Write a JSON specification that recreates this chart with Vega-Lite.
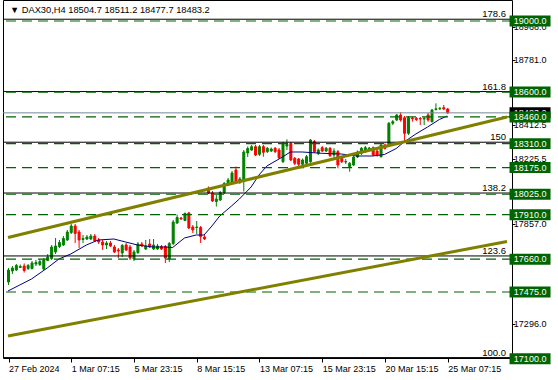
{
  "$schema": "https://vega.github.io/schema/vega-lite/v6.json",
  "width": 509,
  "height": 358,
  "autosize": {"type": "none"},
  "padding": {"left": 3, "top": 0, "right": 46, "bottom": 22},
  "background": "white",
  "config": {
    "font": "Liberation Sans",
    "view": {"stroke": "#000000", "strokeWidth": 1},
    "axis": {"grid": false, "domain": false, "tickColor": "#000000", "labelColor": "#000000", "labelFontSize": 9, "labelFlush": false, "labelOverlap": false, "labelBound": false, "titleFontSize": 0}
  },
  "datasets": {
    "candles": [
      {"i":0,"o":17531.4,"h":17610.2,"l":17514.5,"c":17598.9},
      {"i":1,"o":17593.3,"h":17621.4,"l":17576.4,"c":17610.2},
      {"i":2,"o":17598.9,"h":17632.7,"l":17593.3,"c":17624.2},
      {"i":3,"o":17613.0,"h":17629.8,"l":17610.2,"c":17618.6},
      {"i":4,"o":17621.4,"h":17635.5,"l":17584.8,"c":17596.1},
      {"i":5,"o":17607.4,"h":17632.7,"l":17598.9,"c":17624.2},
      {"i":6,"o":17607.4,"h":17649.6,"l":17601.7,"c":17638.3},
      {"i":7,"o":17632.7,"h":17655.2,"l":17621.4,"c":17641.1},
      {"i":8,"o":17629.8,"h":17660.8,"l":17621.4,"c":17646.7},
      {"i":9,"o":17604.5,"h":17666.4,"l":17598.9,"c":17655.2},
      {"i":10,"o":17652.4,"h":17688.9,"l":17649.6,"c":17672.1},
      {"i":11,"o":17663.6,"h":17739.6,"l":17655.2,"c":17728.3},
      {"i":12,"o":17700.2,"h":17779.0,"l":17688.9,"c":17734.0},
      {"i":13,"o":17731.1,"h":17767.7,"l":17722.7,"c":17753.7},
      {"i":14,"o":17739.6,"h":17790.2,"l":17734.0,"c":17776.2},
      {"i":15,"o":17767.7,"h":17824.0,"l":17762.1,"c":17812.7},
      {"i":16,"o":17809.9,"h":17857.8,"l":17801.5,"c":17846.5},
      {"i":17,"o":17846.5,"h":17857.8,"l":17750.8,"c":17804.3},
      {"i":18,"o":17812.7,"h":17824.0,"l":17722.7,"c":17767.7},
      {"i":19,"o":17770.5,"h":17795.9,"l":17750.8,"c":17776.2},
      {"i":20,"o":17773.3,"h":17795.9,"l":17767.7,"c":17784.6},
      {"i":21,"o":17773.3,"h":17801.5,"l":17767.7,"c":17790.2},
      {"i":22,"o":17790.2,"h":17801.5,"l":17756.5,"c":17762.1},
      {"i":23,"o":17767.7,"h":17779.0,"l":17745.2,"c":17756.5},
      {"i":24,"o":17756.5,"h":17767.7,"l":17711.4,"c":17739.6},
      {"i":25,"o":17739.6,"h":17762.1,"l":17717.1,"c":17750.8},
      {"i":26,"o":17750.8,"h":17762.1,"l":17728.3,"c":17734.0},
      {"i":27,"o":17728.3,"h":17739.6,"l":17694.6,"c":17700.2},
      {"i":28,"o":17711.4,"h":17722.7,"l":17666.4,"c":17705.8},
      {"i":29,"o":17694.6,"h":17745.2,"l":17672.1,"c":17736.8},
      {"i":30,"o":17739.6,"h":17750.8,"l":17705.8,"c":17711.4},
      {"i":31,"o":17728.3,"h":17739.6,"l":17655.2,"c":17666.4},
      {"i":32,"o":17660.8,"h":17711.4,"l":17649.6,"c":17700.2},
      {"i":33,"o":17697.4,"h":17756.5,"l":17688.9,"c":17745.2},
      {"i":34,"o":17745.2,"h":17756.5,"l":17728.3,"c":17734.0},
      {"i":35,"o":17717.1,"h":17767.7,"l":17711.4,"c":17734.0},
      {"i":36,"o":17745.2,"h":17773.3,"l":17722.7,"c":17728.3},
      {"i":37,"o":17717.1,"h":17773.3,"l":17711.4,"c":17739.6},
      {"i":38,"o":17717.1,"h":17745.2,"l":17711.4,"c":17734.0},
      {"i":39,"o":17731.1,"h":17739.6,"l":17711.4,"c":17717.1},
      {"i":40,"o":17731.1,"h":17739.6,"l":17638.3,"c":17666.4},
      {"i":41,"o":17660.8,"h":17756.5,"l":17643.9,"c":17748.0},
      {"i":42,"o":17748.0,"h":17880.3,"l":17739.6,"c":17869.0},
      {"i":43,"o":17863.4,"h":17911.2,"l":17857.8,"c":17894.3},
      {"i":44,"o":17891.5,"h":17897.1,"l":17880.3,"c":17885.9},
      {"i":45,"o":17877.5,"h":17922.5,"l":17874.6,"c":17916.8},
      {"i":46,"o":17919.6,"h":17925.3,"l":17829.6,"c":17835.2},
      {"i":47,"o":17840.9,"h":17852.1,"l":17807.1,"c":17824.0},
      {"i":48,"o":17838.1,"h":17874.6,"l":17801.5,"c":17840.9},
      {"i":49,"o":17838.1,"h":17846.5,"l":17750.8,"c":17787.4},
      {"i":50,"o":17784.6,"h":17795.9,"l":17767.7,"c":17773.3},
      {"i":51,"o":18060.3,"h":18068.8,"l":18026.6,"c":18032.2},
      {"i":52,"o":18032.2,"h":18043.4,"l":17981.5,"c":17987.2},
      {"i":53,"o":17984.4,"h":18020.9,"l":17956.2,"c":17998.4},
      {"i":54,"o":17992.8,"h":18043.4,"l":17987.2,"c":18035.0},
      {"i":55,"o":18035.0,"h":18094.1,"l":18026.6,"c":18085.6},
      {"i":56,"o":18077.2,"h":18116.6,"l":18071.6,"c":18105.3},
      {"i":57,"o":18088.5,"h":18156.0,"l":18082.8,"c":18144.7},
      {"i":58,"o":18161.6,"h":18181.3,"l":18088.5,"c":18094.1},
      {"i":59,"o":18094.1,"h":18122.2,"l":18082.8,"c":18111.0},
      {"i":60,"o":18105.3,"h":18274.1,"l":18040.6,"c":18262.9},
      {"i":61,"o":18257.3,"h":18293.8,"l":18234.8,"c":18282.6},
      {"i":62,"o":18274.1,"h":18302.3,"l":18268.5,"c":18292.7},
      {"i":63,"o":18292.7,"h":18302.3,"l":18240.4,"c":18246.0},
      {"i":64,"o":18250.0,"h":18302.3,"l":18240.4,"c":18292.7},
      {"i":65,"o":18292.7,"h":18302.3,"l":18236.5,"c":18261.2},
      {"i":66,"o":18264.6,"h":18291.0,"l":18257.3,"c":18283.7},
      {"i":67,"o":18268.5,"h":18288.2,"l":18262.9,"c":18279.8},
      {"i":68,"o":18283.7,"h":18291.0,"l":18257.3,"c":18264.6},
      {"i":69,"o":18274.1,"h":18285.4,"l":18223.5,"c":18230.8},
      {"i":70,"o":18208.3,"h":18319.2,"l":18201.0,"c":18311.9},
      {"i":71,"o":18296.7,"h":18334.4,"l":18274.1,"c":18305.1},
      {"i":72,"o":18311.9,"h":18319.2,"l":18212.3,"c":18217.9},
      {"i":73,"o":18227.4,"h":18234.8,"l":18189.7,"c":18199.3},
      {"i":74,"o":18223.5,"h":18229.1,"l":18184.1,"c":18193.7},
      {"i":75,"o":18193.7,"h":18226.3,"l":18189.7,"c":18217.9},
      {"i":76,"o":18199.3,"h":18246.0,"l":18192.6,"c":18236.5},
      {"i":77,"o":18208.3,"h":18336.0,"l":18201.0,"c":18330.4},
      {"i":78,"o":18320.9,"h":18330.4,"l":18257.3,"c":18264.6},
      {"i":79,"o":18255.6,"h":18282.6,"l":18246.0,"c":18274.1},
      {"i":80,"o":18287.1,"h":18296.7,"l":18262.9,"c":18268.5},
      {"i":81,"o":18268.5,"h":18291.0,"l":18262.9,"c":18283.7},
      {"i":82,"o":18283.7,"h":18291.0,"l":18234.8,"c":18242.1},
      {"i":83,"o":18246.0,"h":18283.7,"l":18230.8,"c":18268.5},
      {"i":84,"o":18264.6,"h":18274.1,"l":18171.2,"c":18189.7},
      {"i":85,"o":18227.4,"h":18234.8,"l":18201.0,"c":18208.3},
      {"i":86,"o":18206.6,"h":18223.5,"l":18195.4,"c":18209.4},
      {"i":87,"o":18180.2,"h":18206.6,"l":18152.0,"c":18199.3},
      {"i":88,"o":18189.7,"h":18240.4,"l":18184.1,"c":18234.8},
      {"i":89,"o":18234.8,"h":18271.3,"l":18229.1,"c":18262.9},
      {"i":90,"o":18255.6,"h":18291.0,"l":18246.0,"c":18283.7},
      {"i":91,"o":18264.6,"h":18296.7,"l":18257.3,"c":18287.1},
      {"i":92,"o":18279.8,"h":18291.0,"l":18274.1,"c":18285.4},
      {"i":93,"o":18287.1,"h":18293.8,"l":18240.4,"c":18246.0},
      {"i":94,"o":18268.5,"h":18277.0,"l":18236.5,"c":18246.0},
      {"i":95,"o":18236.5,"h":18307.9,"l":18231.9,"c":18302.3},
      {"i":96,"o":18302.3,"h":18310.7,"l":18277.0,"c":18283.7},
      {"i":97,"o":18302.3,"h":18431.7,"l":18296.7,"c":18424.4},
      {"i":98,"o":18424.4,"h":18443.0,"l":18414.8,"c":18433.4},
      {"i":99,"o":18443.0,"h":18476.7,"l":18437.3,"c":18471.1},
      {"i":100,"o":18471.1,"h":18486.3,"l":18433.4,"c":18443.0},
      {"i":101,"o":18455.9,"h":18465.5,"l":18320.9,"c":18368.1},
      {"i":102,"o":18368.1,"h":18465.5,"l":18358.6,"c":18455.9},
      {"i":103,"o":18454.2,"h":18461.5,"l":18433.4,"c":18450.3},
      {"i":104,"o":18452.5,"h":18459.8,"l":18437.3,"c":18445.8},
      {"i":105,"o":18451.4,"h":18459.8,"l":18414.8,"c":18448.6},
      {"i":106,"o":18448.6,"h":18459.8,"l":18414.8,"c":18451.4},
      {"i":107,"o":18471.1,"h":18482.3,"l":18433.4,"c":18443.0},
      {"i":108,"o":18433.4,"h":18504.9,"l":18428.9,"c":18499.2},
      {"i":109,"o":18502.0,"h":18536.9,"l":18496.4,"c":18506.0},
      {"i":110,"o":18506.0,"h":18516.1,"l":18499.2,"c":18508.8},
      {"i":111,"o":18512.2,"h":18527.4,"l":18499.2,"c":18504.9},
      {"i":112,"o":18504.7,"h":18511.2,"l":18477.7,"c":18483.2}
    ],
    "ma": [
      {"i":0,"v":17480.7},{"i":3,"v":17514.5},{"i":6,"v":17548.3},{"i":10,"v":17610.2},
      {"i":13,"v":17660.8},{"i":16,"v":17688.9},{"i":20,"v":17739.6},{"i":23,"v":17767.7},
      {"i":27,"v":17773.3},{"i":30,"v":17756.5},{"i":33,"v":17739.6},{"i":37,"v":17728.3},
      {"i":40,"v":17728.3},{"i":42,"v":17725.5},{"i":45,"v":17779.0},{"i":48,"v":17795.9},
      {"i":50,"v":17795.9},{"i":52,"v":17846.5},{"i":54,"v":17902.8},{"i":57,"v":17959.0},
      {"i":59,"v":17998.4},{"i":62,"v":18066.0},{"i":64,"v":18133.5},{"i":66,"v":18184.1},
      {"i":70,"v":18234.8},{"i":72,"v":18262.9},{"i":75,"v":18262.9},{"i":80,"v":18255.6},
      {"i":85,"v":18251.6},{"i":89,"v":18240.4},{"i":93,"v":18240.4},{"i":96,"v":18248.8},
      {"i":99,"v":18282.6},{"i":101,"v":18319.2},{"i":104,"v":18364.2},{"i":107,"v":18403.6},
      {"i":110,"v":18445.8},{"i":112,"v":18465.5}
    ],
    "trend": [
      {"line":"a","i":0,"p":17781.8},{"line":"a","i":127.25,"p":18459.8},
      {"line":"b","i":0,"p":17227.5},{"line":"b","i":127.25,"p":17759.3}
    ],
    "fib": [
      {"lbl":"178.6","p":19010},{"lbl":"161.8","p":18603},{"lbl":"150","p":18318},
      {"lbl":"138.2","p":18032},{"lbl":"123.6","p":17678},{"lbl":"100.0","p":17106}
    ],
    "levels": [
      {"p":19000},{"p":18600},{"p":18460},{"p":18310},{"p":18175},
      {"p":18025},{"p":17910},{"p":17660},{"p":17475}
    ],
    "boxes": [
      {"p":19000},{"p":18600},{"p":18460},{"p":18310},{"p":18175},
      {"p":18025},{"p":17910},{"p":17660},{"p":17475},{"p":17100}
    ],
    "yticks": [
      {"p":18968},{"p":18781},{"p":18412.5},{"p":18225.5},{"p":17857},{"p":17296}
    ],
    "last": [{"p":18483.2}],
    "title": [{"t":"▼  DAX30,H4  18504.7 18511.2 18477.7 18483.2"}]
  },
  "layer": [
    {
      "data": {"name": "candles"},
      "mark": {"type": "rule", "strokeWidth": 1, "xOffset": 0.5},
      "encoding": {
        "x": {"field": "i", "type": "quantitative", "title": null,
          "scale": {"domain": [0, 127.25], "nice": false, "zero": false},
          "axis": {"values": [0,16,32,48,64,80,96,112], "labelExpr": "['27 Feb 2024','1 Mar 07:15','5 Mar 23:15','8 Mar 15:15','13 Mar 07:15','15 Mar 23:15','20 Mar 15:15','25 Mar 07:15'][round(datum.value/16)]",
            "title": null, "orient": "bottom", "tickSize": 4, "tickOffset": 0.5, "labelOverlap": false,
            "labelAlign": "left", "labelBaseline": "top", "labelPadding": 2}},
        "y": {"field": "l", "type": "quantitative", "title": null,
          "scale": {"domain": [17103.7, 19118.2], "nice": false, "zero": false},
          "axis": {"orient": "right", "values": [18968, 18781, 18412.5, 18225.5, 17857, 17296], "labels": false,
            "title": null, "tickSize": 3}},
        "y2": {"field": "h"},
        "color": {"condition": {"test": "datum.c >= datum.o", "value": "#008000"}, "value": "#ff0000"}
      }
    },
    {
      "data": {"name": "candles"},
      "mark": {"type": "bar", "width": 2, "strokeWidth": 1, "xOffset": 0.5},
      "encoding": {
        "x": {"field": "i", "type": "quantitative", "title": null},
        "y": {"field": "o", "type": "quantitative", "title": null},
        "y2": {"field": "c"},
        "color": {"condition": {"test": "datum.c >= datum.o", "value": "#008000"}, "value": "#ff0000"},
        "stroke": {"condition": {"test": "datum.c >= datum.o", "value": "#008000"}, "value": "#ff0000"}
      }
    },
    {
      "data": {"name": "ma"},
      "mark": {"type": "line", "color": "#000080", "strokeWidth": 1},
      "encoding": {
        "x": {"field": "i", "type": "quantitative", "title": null},
        "y": {"field": "v", "type": "quantitative", "title": null}
      }
    },
    {
      "data": {"name": "fib"},
      "mark": {"type": "rule", "color": "#000000", "strokeWidth": 1},
      "encoding": {
        "y": {"field": "p", "type": "quantitative", "title": null}
      }
    },
    {
      "data": {"name": "levels"},
      "mark": {"type": "rule", "color": "#006400", "strokeWidth": 1.2, "strokeDash": [10, 6]},
      "encoding": {
        "y": {"field": "p", "type": "quantitative", "title": null}
      }
    },
    {
      "data": {"name": "last"},
      "mark": {"type": "rule", "color": "#778899", "strokeWidth": 1},
      "encoding": {
        "y": {"field": "p", "type": "quantitative", "title": null}
      }
    },
    {
      "data": {"name": "trend"},
      "mark": {"type": "line", "color": "#808000", "strokeWidth": 3},
      "encoding": {
        "x": {"field": "i", "type": "quantitative", "title": null},
        "y": {"field": "p", "type": "quantitative", "title": null},
        "detail": {"field": "line"}
      }
    },
    {
      "data": {"name": "fib"},
      "mark": {"type": "text", "align": "right", "baseline": "alphabetic", "dy": -2, "fontSize": 9.5, "color": "#000000"},
      "encoding": {
        "x": {"datum": 127, "type": "quantitative", "title": null},
        "y": {"field": "p", "type": "quantitative", "title": null},
        "text": {"field": "lbl"}
      }
    },
    {
      "data": {"name": "yticks"},
      "mark": {"type": "text", "align": "left", "baseline": "middle", "fontSize": 9, "color": "#000000"},
      "encoding": {
        "x": {"datum": 129, "type": "quantitative", "title": null},
        "y": {"field": "p", "type": "quantitative", "title": null},
        "text": {"field": "p", "format": ".1f"}
      }
    },
    {
      "data": {"name": "last"},
      "mark": {"type": "point", "shape": "M-1,-0.268L1,-0.268L1,0.268L-1,0.268Z", "size": 1681, "filled": true, "opacity": 1, "color": "#000000"},
      "encoding": {
        "x": {"datum": 133.125, "type": "quantitative", "title": null},
        "y": {"field": "p", "type": "quantitative", "title": null}
      }
    },
    {
      "data": {"name": "last"},
      "mark": {"type": "text", "align": "left", "baseline": "middle", "fontSize": 9, "color": "#ffffff"},
      "encoding": {
        "x": {"datum": 129, "type": "quantitative", "title": null},
        "y": {"field": "p", "type": "quantitative", "title": null},
        "text": {"field": "p", "format": ".1f"}
      }
    },
    {
      "data": {"name": "boxes"},
      "mark": {"type": "point", "shape": "M-1,-0.268L1,-0.268L1,0.268L-1,0.268Z", "size": 1681, "filled": true, "opacity": 1, "color": "#006400"},
      "encoding": {
        "x": {"datum": 133.125, "type": "quantitative", "title": null},
        "y": {"field": "p", "type": "quantitative", "title": null}
      }
    },
    {
      "data": {"name": "boxes"},
      "mark": {"type": "text", "align": "left", "baseline": "middle", "fontSize": 9, "color": "#ffffff"},
      "encoding": {
        "x": {"datum": 129, "type": "quantitative", "title": null},
        "y": {"field": "p", "type": "quantitative", "title": null},
        "text": {"field": "p", "format": ".1f"}
      }
    },
    {
      "data": {"name": "title"},
      "mark": {"type": "text", "align": "left", "baseline": "alphabetic", "fontSize": 9.3, "color": "#000000"},
      "encoding": {
        "x": {"datum": 0.5, "type": "quantitative", "title": null},
        "y": {"datum": 19045, "type": "quantitative", "title": null},
        "text": {"field": "t"}
      }
    }
  ]
}
